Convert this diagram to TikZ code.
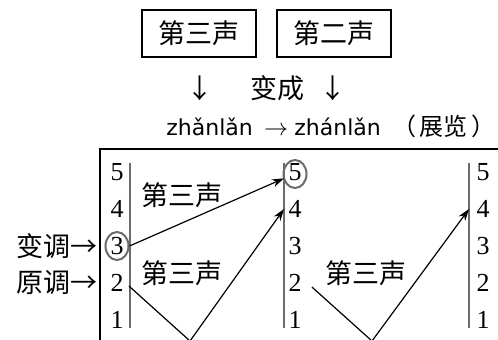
\documentclass[tikz,border=0pt]{standalone}
\usepackage{fontspec}
\setmainfont{Liberation Serif}
\newfontfamily\cjk{Noto Sans CJK SC}
\newfontfamily\pinyin{DejaVu Sans}
\usetikzlibrary{arrows.meta,shapes.geometric}
\definecolor{axisgray}{gray}{0.42}
\newcommand{\hanzi}{\cjk\fontsize{13.5}{16}\selectfont}
\newcommand{\pyin}{\pinyin\fontsize{11}{13}\selectfont}

\begin{document}
\begin{tikzpicture}[x=0.5pt,y=-0.5pt,
    num/.style={inner sep=2pt,font=\fontsize{13}{14}\selectfont},
    ring/.style={draw=axisgray,line width=1pt,ellipse,inner sep=0pt,minimum width=11.5pt,minimum height=14pt},
    tone/.style={line width=0.6pt,-{Stealth[length=6pt,width=4pt]}},
    axis/.style={draw=axisgray,line width=1pt},
    tag/.style={draw,line width=0.8pt,minimum width=57pt,minimum height=23.5pt,font=\hanzi}]
    \useasboundingbox (0,0) rectangle (498,339);
    % top
    \node[tag] (T3) at (199,33.5) {第三声};
    \node[tag] (T2) at (334,33.5) {第二声};
    \node[font=\hanzi] (D1) at (200,88) {↓};
    \node[font=\hanzi] (BC) at (277,88) {变成};
    \node[font=\hanzi] (D2) at (333,88) {↓};
    \node[font=\pyin,anchor=base west,inner sep=0pt] (P1) at (166,135) {zhǎnlǎn};
    \node[font=\fontsize{12.5}{14}\selectfont,anchor=base,inner sep=0pt] (P2) at (276,135) {$\rightarrow$};
    \node[font=\pyin,anchor=base west,inner sep=0pt] (P3) at (294,135) {zhánlǎn};
    \node[font=\cjk\fontsize{12}{13}\selectfont,anchor=base west,inner sep=0pt] (P4) at (392,135) {（\hspace{1.5pt}展览\hspace{2pt}）};
    % frame and axes
    \draw[line width=1pt] (100,341) -- (100,149) -- (500,149);
    \coordinate (At) at (130,163); \coordinate (Ab) at (130,328);
    \coordinate (Bt) at (284,163); \coordinate (Bb) at (284,328);
    \coordinate (Ct) at (469,163); \coordinate (Cb) at (469,328);
    \draw[axis] (At) -- (Ab);
    \draw[axis] (Bt) -- (Bb);
    \draw[axis] (Ct) -- (Cb);
    \foreach \n/\y in {5/172,4/209,3/246,2/283,1/320} {
        \node[num] (a\n) at (117,\y) {\n};
        \node[num] (b\n) at (295,\y) {\n};
        \node[num] (c\n) at (483,\y) {\n};
    }
    \node[ring] (r3) at (a3) {};
    \node[ring] (r5) at ([yshift=-1pt]b5) {};
    % labels
    \node[font=\hanzi] (S1) at (182,195) {第三声};
    \node[font=\hanzi] (S2) at (182,273) {第三声};
    \node[font=\hanzi] (S3) at (366,273) {第三声};
    \node[font=\hanzi,anchor=east,inner sep=0pt] (L1) at (98,246) {变调→};
    \node[font=\hanzi,anchor=east,inner sep=0pt] (L2) at (98,283) {原调→};
    % tone lines
    \coordinate (V1) at (190,341);
    \coordinate (V2) at (372,341);
    \draw[tone] (r3.east) -- (r5.200 -| Bt);
    \draw[tone] ([xshift=0.5pt,yshift=-1.5pt]a2.east) -- (V1) -- (b4 -| Bt);
    \draw[tone] ([xshift=3pt,yshift=-2pt]b2.east) -- (V2) -- (c4 -| Ct);
\end{tikzpicture}
\end{document}
